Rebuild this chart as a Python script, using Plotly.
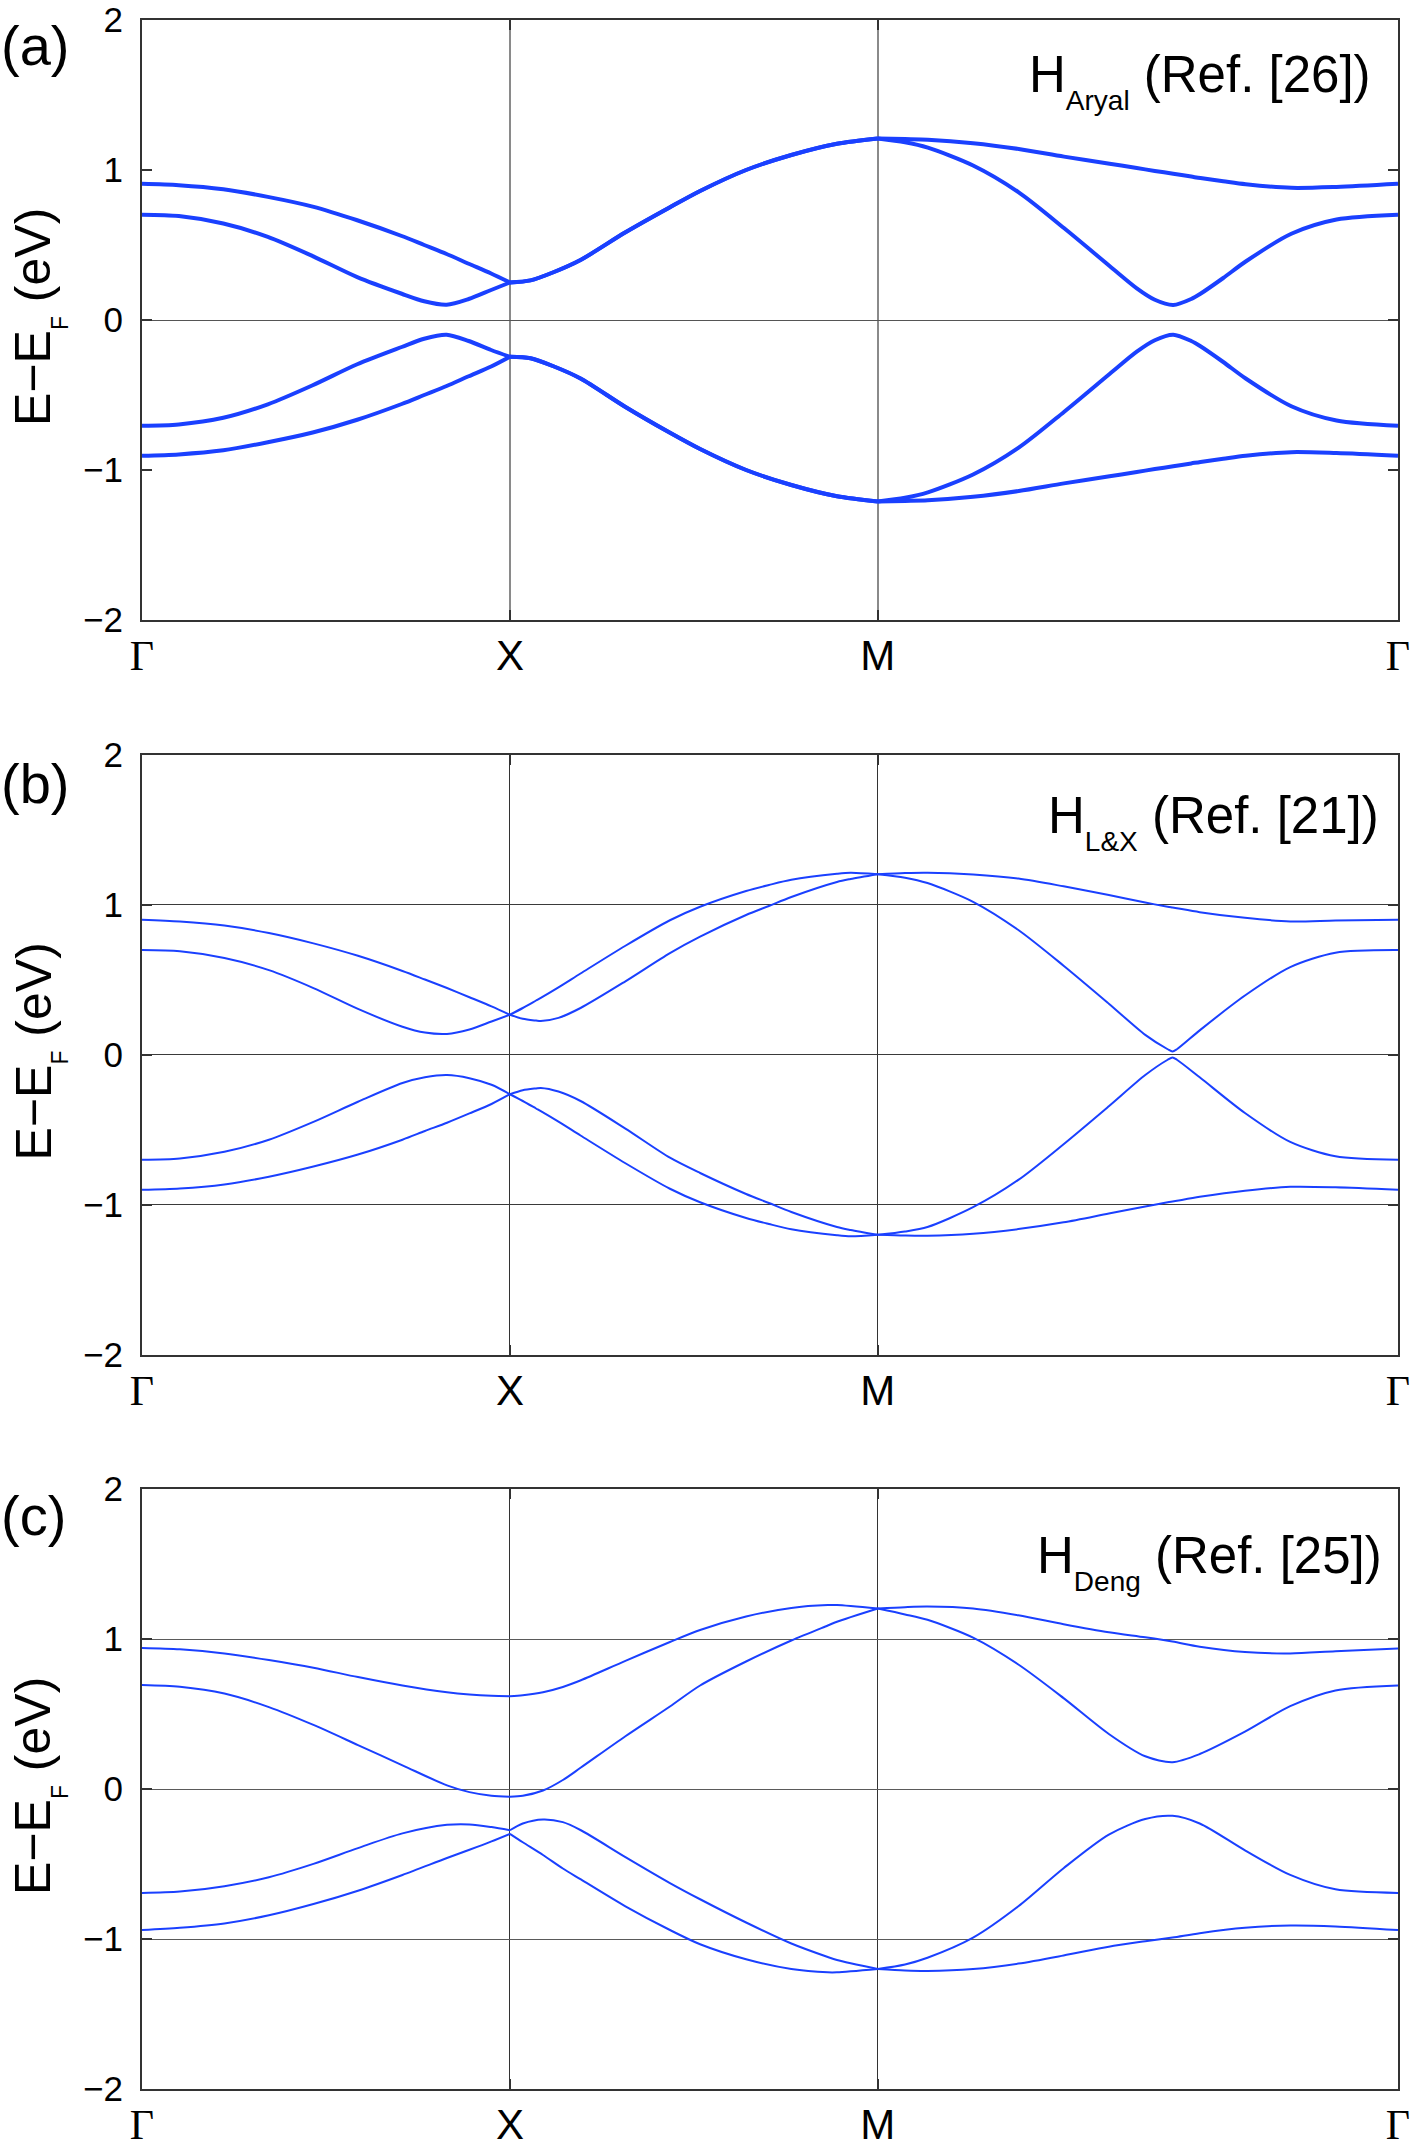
import plotly.graph_objects as go

# ---------------- k-path (Γ–X–M–Γ, M–Γ = √2) ----------------
k_ticks = [0.0, 1.0, 2.0, 3.414]
k_labels = ['<span style="font-family:Liberation Serif">Γ</span>', 'X', 'M',
            '<span style="font-family:Liberation Serif">Γ</span>']
e_ticks = [-2, -1, 0, 1, 2]
e_labels = ['−2', '−1', '0', '1', '2']

# ---------------- Panel (a): H_Aryal ----------------
a_gx_k = [0, 0.1, 0.221, 0.342, 0.464, 0.585, 0.706, 0.767, 0.828, 0.888, 0.949, 1.0]
a_gx_b4 = [0.908, 0.899, 0.872, 0.821, 0.756, 0.665, 0.56, 0.50, 0.44, 0.375, 0.31, 0.25]
a_gx_b3 = [0.702, 0.693, 0.643, 0.554, 0.426, 0.286, 0.175, 0.125, 0.102, 0.14, 0.2, 0.25]
a_gx_b2 = [-0.705, -0.696, -0.652, -0.562, -0.435, -0.295, -0.18, -0.125, -0.098, -0.14, -0.2, -0.245]
a_gx_b1 = [-0.905, -0.896, -0.869, -0.815, -0.75, -0.665, -0.56, -0.50, -0.44, -0.375, -0.31, -0.245]

a_xm_k = [1.0, 1.056, 1.12, 1.192, 1.313, 1.434, 1.517, 1.642, 1.765, 1.889, 2.0]
a_xm_b4 = [0.25, 0.264, 0.32, 0.40, 0.583, 0.75, 0.86, 1.0, 1.10, 1.175, 1.21]
a_xm_b3 = [0.25, 0.264, 0.32, 0.40, 0.583, 0.75, 0.86, 1.0, 1.10, 1.175, 1.21]
a_xm_b2 = [-0.245, -0.255, -0.31, -0.39, -0.578, -0.75, -0.86, -1.0, -1.10, -1.175, -1.21]
a_xm_b1 = [-0.245, -0.255, -0.31, -0.39, -0.578, -0.75, -0.86, -1.0, -1.10, -1.175, -1.21]

a_mg_k = [2.0, 2.074, 2.136, 2.259, 2.383, 2.506, 2.63, 2.704, 2.753, 2.803, 2.852, 2.877, 2.939, 3.0, 3.124, 3.247, 3.414]
a_mg_b4 = [1.21, 1.206, 1.202, 1.179, 1.14, 1.089, 1.042, 1.013, 0.994, 0.975, 0.956, 0.946, 0.925, 0.905, 0.881, 0.887, 0.908]
a_mg_b3 = [1.21, 1.185, 1.149, 1.03, 0.851, 0.613, 0.36, 0.211, 0.135, 0.1, 0.14, 0.175, 0.28, 0.39, 0.575, 0.67, 0.702]
a_mg_b2 = [-1.21, -1.185, -1.149, -1.03, -0.851, -0.613, -0.36, -0.211, -0.135, -0.098, -0.14, -0.175, -0.28, -0.39, -0.575, -0.67, -0.705]
a_mg_b1 = [-1.21, -1.206, -1.202, -1.179, -1.14, -1.089, -1.042, -1.013, -0.994, -0.975, -0.956, -0.946, -0.925, -0.905, -0.881, -0.887, -0.905]

# ---------------- Panel (b): H_L&X ----------------
b_gx_k = [0, 0.103, 0.224, 0.345, 0.466, 0.587, 0.708, 0.769, 0.829, 0.89, 0.95, 1.0]
b_gx_b4 = [0.899, 0.887, 0.86, 0.81, 0.741, 0.658, 0.557, 0.50, 0.443, 0.382, 0.321, 0.265]
b_gx_b3 = [0.696, 0.688, 0.643, 0.5625, 0.443, 0.304, 0.185, 0.146, 0.137, 0.167, 0.22, 0.265]
b_gx_b2 = [-0.702, -0.693, -0.649, -0.568, -0.449, -0.315, -0.19, -0.152, -0.137, -0.158, -0.202, -0.265]
b_gx_b1 = [-0.902, -0.893, -0.866, -0.815, -0.747, -0.667, -0.568, -0.51, -0.455, -0.393, -0.33, -0.265]

b_xm_k = [1.0, 1.035, 1.071, 1.084, 1.132, 1.192, 1.314, 1.435, 1.517, 1.642, 1.704, 1.765, 1.889, 1.926, 2.0]
b_xm_b4 = [0.265, 0.31, 0.36, 0.378, 0.448, 0.54, 0.725, 0.895, 0.985, 1.09, 1.13, 1.165, 1.205, 1.212, 1.202]
b_xm_b3 = [0.265, 0.238, 0.226, 0.223, 0.244, 0.31, 0.488, 0.676, 0.786, 0.93, 0.99, 1.05, 1.15, 1.17, 1.202]
b_xm_b2 = [-0.265, -0.238, -0.226, -0.223, -0.247, -0.31, -0.494, -0.688, -0.79, -0.93, -0.99, -1.05, -1.15, -1.17, -1.202]
b_xm_b1 = [-0.265, -0.31, -0.36, -0.378, -0.448, -0.54, -0.725, -0.895, -0.985, -1.09, -1.13, -1.165, -1.205, -1.212, -1.202]

b_mg_k = [2.0, 2.074, 2.135, 2.259, 2.382, 2.505, 2.628, 2.727, 2.788, 2.801, 2.813, 2.875, 2.998, 3.121, 3.244, 3.414]
b_mg_b4 = [1.202, 1.21, 1.212, 1.2, 1.173, 1.121, 1.063, 1.013, 0.985, 0.98, 0.975, 0.949, 0.911, 0.887, 0.893, 0.899]
b_mg_b3 = [1.202, 1.179, 1.143, 1.018, 0.83, 0.592, 0.339, 0.131, 0.035, 0.02, 0.035, 0.161, 0.393, 0.583, 0.679, 0.696]
b_mg_b2 = [-1.202, -1.18, -1.15, -1.018, -0.836, -0.598, -0.345, -0.137, -0.035, -0.02, -0.035, -0.152, -0.39, -0.583, -0.679, -0.702]
b_mg_b1 = [-1.202, -1.207, -1.208, -1.195, -1.164, -1.119, -1.06, -1.013, -0.985, -0.98, -0.975, -0.949, -0.908, -0.882, -0.885, -0.902]

# ---------------- Panel (c): H_Deng ----------------
c_gx_k = [0, 0.103, 0.224, 0.345, 0.466, 0.587, 0.708, 0.829, 0.89, 0.95, 1.0]
c_gx_b4 = [0.94, 0.931, 0.904, 0.86, 0.809, 0.746, 0.69, 0.645, 0.63, 0.621, 0.618]
c_gx_b3 = [0.693, 0.681, 0.636, 0.546, 0.427, 0.293, 0.158, 0.024, -0.021, -0.045, -0.051]
c_gx_b2 = [-0.693, -0.684, -0.648, -0.588, -0.499, -0.394, -0.296, -0.239, -0.236, -0.254, -0.275]
c_gx_b1 = [-0.94, -0.925, -0.896, -0.842, -0.767, -0.678, -0.573, -0.46, -0.405, -0.349, -0.299]

c_xm_k = [1.0, 1.035, 1.090, 1.144, 1.193, 1.314, 1.435, 1.517, 1.642, 1.765, 1.864, 1.889, 2.0]
c_xm_b4 = [0.618, 0.625, 0.645, 0.68, 0.725, 0.854, 0.98, 1.06, 1.15, 1.207, 1.226, 1.226, 1.203]
c_xm_b3 = [-0.051, -0.045, -0.01, 0.06, 0.143, 0.352, 0.55, 0.69, 0.85, 0.99, 1.09, 1.115, 1.203]
c_xm_b2 = [-0.275, -0.23, -0.203, -0.221, -0.275, -0.454, -0.627, -0.735, -0.89, -1.03, -1.12, -1.14, -1.2]
c_xm_b1 = [-0.299, -0.355, -0.44, -0.53, -0.603, -0.782, -0.94, -1.035, -1.135, -1.2, -1.222, -1.222, -1.2]

c_mg_k = [2.0, 2.074, 2.135, 2.259, 2.382, 2.505, 2.628, 2.727, 2.801, 2.875, 2.998, 3.121, 3.244, 3.414]
c_mg_b4 = [1.203, 1.212, 1.216, 1.203, 1.158, 1.099, 1.045, 1.011, 0.983, 0.949, 0.913, 0.904, 0.919, 0.937]
c_mg_b3 = [1.203, 1.164, 1.128, 1.009, 0.83, 0.606, 0.367, 0.218, 0.179, 0.233, 0.382, 0.552, 0.657, 0.69]
c_mg_b2 = [-1.2, -1.17, -1.125, -0.991, -0.782, -0.528, -0.304, -0.2, -0.179, -0.23, -0.409, -0.573, -0.669, -0.693]
c_mg_b1 = [-1.2, -1.21, -1.213, -1.2, -1.164, -1.11, -1.051, -1.015, -0.99, -0.961, -0.925, -0.91, -0.916, -0.94]

panel_names = ['(a)', '(b)', '(c)']
model_labels = ['H<sub><sub><span style="font-size:28px">Aryal</span></sub></sub> (Ref. [26])',
                'H<sub><sub><span style="font-size:28px">L&amp;X</span></sub></sub> (Ref. [21])',
                'H<sub><sub><span style="font-size:28px">Deng</span></sub></sub> (Ref. [25])']

# ---------------- styling / geometry ----------------
W, H = 1413, 2152
ML, MR, MT, MB = 142, 15, 20, 63
PW, PH = W - ML - MR, H - MT - MB
BLUE = '#1a40ff'
SANS = 'Liberation Sans, Arial, sans-serif'
panel_top_px = [20, 754.5, 1489]
line_widths = [4, 2, 2]


def px_x(x):
    return (x - ML) / PW


def px_y(y):
    return (H - MB - y) / PH


def clamp(v):
    return max(0.0, min(1.0, v))


domains = [[clamp(px_y(t + 600)), clamp(px_y(t))] for t in panel_top_px]

panels = [
    [(a_gx_k, [a_gx_b1, a_gx_b2, a_gx_b3, a_gx_b4]),
     (a_xm_k, [a_xm_b1, a_xm_b2, a_xm_b3, a_xm_b4]),
     (a_mg_k, [a_mg_b1, a_mg_b2, a_mg_b3, a_mg_b4])],
    [(b_gx_k, [b_gx_b1, b_gx_b2, b_gx_b3, b_gx_b4]),
     (b_xm_k, [b_xm_b1, b_xm_b2, b_xm_b3, b_xm_b4]),
     (b_mg_k, [b_mg_b1, b_mg_b2, b_mg_b3, b_mg_b4])],
    [(c_gx_k, [c_gx_b1, c_gx_b2, c_gx_b3, c_gx_b4]),
     (c_xm_k, [c_xm_b1, c_xm_b2, c_xm_b3, c_xm_b4]),
     (c_mg_k, [c_mg_b1, c_mg_b2, c_mg_b3, c_mg_b4])],
]

fig = go.Figure()
for p, segs in enumerate(panels):
    xa = 'x' if p == 0 else f'x{p + 1}'
    ya = 'y' if p == 0 else f'y{p + 1}'
    for ks, bands in segs:
        for band in bands:
            fig.add_trace(go.Scatter(
                x=ks, y=band, mode='lines', xaxis=xa, yaxis=ya,
                line=dict(color=BLUE, width=line_widths[p], shape='spline', smoothing=0.8),
                hoverinfo='skip', showlegend=False))

grid_styles = [('#8a8a8a', 1.5), ('#3a3a3a', 1), ('#5a5a5a', 1.2)]
layout = dict(
    template='none',
    width=W, height=H, autosize=False, margin=dict(l=ML, r=MR, t=MT, b=MB, pad=0),
    paper_bgcolor='white', plot_bgcolor='white', showlegend=False,
    font=dict(family=SANS, color='black'),
)
for p in range(3):
    xn = 'xaxis' if p == 0 else f'xaxis{p + 1}'
    yn = 'yaxis' if p == 0 else f'yaxis{p + 1}'
    ya = 'y' if p == 0 else f'y{p + 1}'
    xa = 'x' if p == 0 else f'x{p + 1}'
    gc, gw = grid_styles[p]
    layout[xn] = dict(
        domain=[0, 1], anchor=ya, range=[0, 3.414], automargin=False,
        tickmode='array', tickvals=k_ticks, ticktext=k_labels,
        showgrid=True, gridcolor=('#8a8a8a' if p == 0 else '#333333'), gridwidth=(1.5 if p == 0 else 1),
        zeroline=False, showline=True, linecolor='#333333', linewidth=2, mirror='ticks',
        ticks='inside', ticklen=10, tickwidth=2, tickcolor='#333333',
        tickfont=dict(family=SANS, size=42, color='black'), ticklabelstandoff=-2,
        fixedrange=True)
    layout[yn] = dict(
        domain=domains[p], anchor=xa, range=[-2, 2], automargin=False,
        tickmode='array', tickvals=e_ticks, ticktext=e_labels,
        showgrid=(p != 0), gridcolor=gc, gridwidth=gw,
        zeroline=(p == 0), zerolinecolor='#555555', zerolinewidth=1.2,
        showline=True, linecolor='#333333', linewidth=2, mirror='ticks',
        ticks='inside', ticklen=10, tickwidth=2, tickcolor='#333333',
        tickfont=dict(family=SANS, size=35, color='black'), ticklabelstandoff=10,
        fixedrange=True)

annotations = []
label_tops = [13.5, 750.8, 1483.2]
model_right = [1371.5, 1379.5, 1382.5]
model_tops = [45.5, 785.5, 1525.5]
for p in range(3):
    top = panel_top_px[p]
    annotations.append(dict(
        text=panel_names[p], xref='paper', yref='paper',
        x=px_x(0), y=px_y(label_tops[p]), xanchor='left', yanchor='top',
        showarrow=False, borderpad=0, font=dict(family=SANS, size=56, color='black')))
    annotations.append(dict(
        text='E−E<sub><sub><span style="font-size:23px">F</span></sub></sub> (eV)',
        xref='paper', yref='paper', textangle=-90,
        x=px_x(4), y=px_y(top + 297), xanchor='left', yanchor='middle',
        showarrow=False, borderpad=0, font=dict(family=SANS, size=50, color='black')))
    annotations.append(dict(
        text=model_labels[p], xref='paper', yref='paper',
        x=px_x(model_right[p]), y=px_y(model_tops[p]), xanchor='right', yanchor='top',
        showarrow=False, borderpad=0, font=dict(family=SANS, size=51, color='black')))
layout['annotations'] = annotations

fig.update_layout(**layout)

fig.write_html("out.html", config={'displayModeBar': False},
               post_script="document.body.style.margin='0';")
